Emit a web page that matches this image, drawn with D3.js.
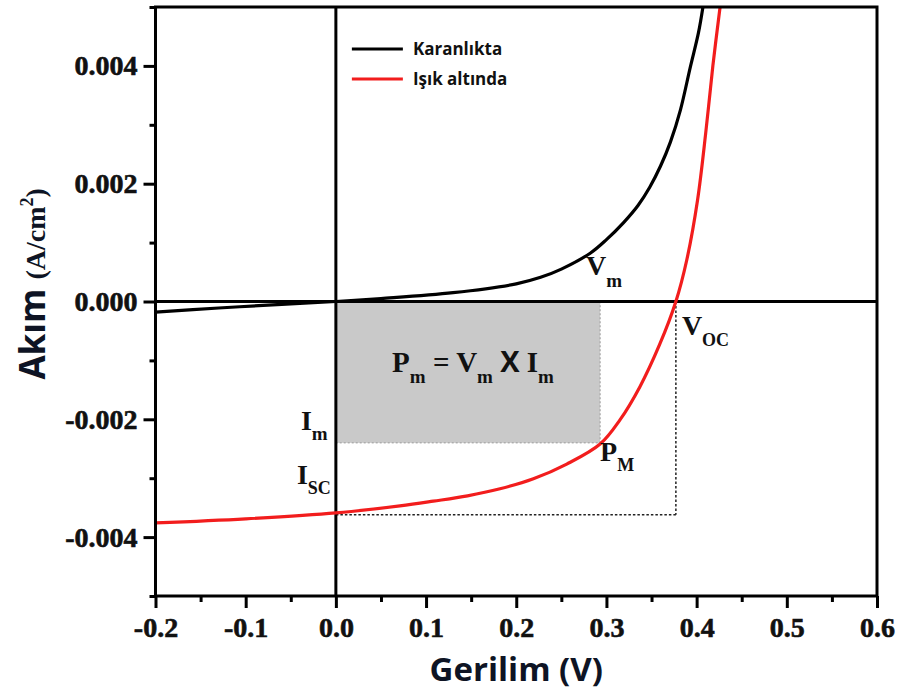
<!DOCTYPE html>
<html>
<head>
<meta charset="utf-8">
<script src="https://cdn.jsdelivr.net/npm/d3@7"></script>
<style>
  body { margin: 0; background: #fff; }
  svg { display: block; }
</style>
</head>
<body>
<svg id="iv-chart" width="901" height="690"></svg>
<script>
// karanlıkta (dark) curve
const darkV = [-0.2, -0.13, -0.06, 0, 0.05, 0.13, 0.2, 0.227, 0.25, 0.282, 0.3, 0.319, 0.335, 0.348, 0.36, 0.371, 0.382, 0.393, 0.402, 0.407];
const darkI = [-0.00018, -0.00011, -0.00005, 0, 0.00005, 0.00015, 0.0003, 0.00041, 0.00055, 0.00082, 0.00105, 0.00134, 0.00163, 0.00194, 0.0023, 0.00271, 0.00325, 0.00398, 0.00456, 0.005];

// ışık altında (light) curve
const lightV = [-0.2, -0.1, 0, 0.071, 0.108, 0.146, 0.182, 0.219, 0.256, 0.293, 0.315, 0.337, 0.359, 0.377, 0.389, 0.401, 0.41, 0.418, 0.426];
const lightI = [-0.00376, -0.00369, -0.00359, -0.00347, -0.00339, -0.0033, -0.00318, -0.00301, -0.00276, -0.00242, -0.00201, -0.00145, -0.00073, 0, 0.0007, 0.00172, 0.00285, 0.004, 0.005];

// karakteristik noktalar
const Vm = 0.293, Im = -0.0024, Voc = 0.377, Isc = -0.00362;

const xTicks = [-0.2, -0.1, 0.0, 0.1, 0.2, 0.3, 0.4, 0.5, 0.6];
const xTickLabels = ["-0.2", "-0.1", "0.0", "0.1", "0.2", "0.3", "0.4", "0.5", "0.6"];
const xMinor = [-0.15, -0.05, 0.05, 0.15, 0.25, 0.35, 0.45, 0.55];
const yTicks = [-0.004, -0.002, 0.0, 0.002, 0.004];
const yTickLabels = ["-0.004", "-0.002", "0.000", "0.002", "0.004"];
const yMinor = [-0.005, -0.003, -0.001, 0.001, 0.003, 0.005];

const legendNames = ["Karanlıkta", "Işık altında"];
const legendColors = ["#000000", "#f21d1d"];

const svg = d3.select("#iv-chart");
const margin = { top: 7, right: 24, bottom: 94, left: 155.5 };
const width = +svg.attr("width") - margin.left - margin.right;
const height = +svg.attr("height") - margin.top - margin.bottom;
const g = svg.append("g").attr("transform", `translate(${margin.left},${margin.top})`);

const x = d3.scaleLinear().domain([-0.2, 0.6]).range([0, width]);
const y = d3.scaleLinear().domain([-0.005, 0.005]).range([height, 0]);

const serif = "'Liberation Serif', 'Times New Roman', serif";
const sans = "'Open Sans', 'Noto Sans', sans-serif";

g.append("clipPath").attr("id", "plot-clip")
    .append("rect").attr("width", width).attr("height", height);

// Pm dikdörtgeni
g.append("rect")
    .attr("x", x(0))
    .attr("y", y(0))
    .attr("width", x(Vm) - x(0))
    .attr("height", y(Im) - y(0))
    .attr("fill", "#c9c9c9")
    .attr("stroke", "#9a9a9a")
    .attr("stroke-width", 1)
    .attr("stroke-dasharray", "2,2");

// Voc / Isc kesikli çizgiler
const dotted = g.append("g")
    .attr("fill", "none")
    .attr("stroke", "#222")
    .attr("stroke-width", 1.5)
    .attr("stroke-dasharray", "2.5,2");
dotted.append("line")
    .attr("x1", x(Voc)).attr("x2", x(Voc))
    .attr("y1", y(0)).attr("y2", y(Isc));
dotted.append("line")
    .attr("x1", x(0)).attr("x2", x(Voc))
    .attr("y1", y(Isc)).attr("y2", y(Isc));

// sıfır eksenleri
g.append("line")
    .attr("x1", 0).attr("x2", width)
    .attr("y1", y(0)).attr("y2", y(0))
    .attr("stroke", "#000").attr("stroke-width", 3);
g.append("line")
    .attr("x1", x(0)).attr("x2", x(0))
    .attr("y1", 0).attr("y2", height)
    .attr("stroke", "#000").attr("stroke-width", 3);

// eğriler
const line = d3.line()
    .x(d => x(d[0]))
    .y(d => y(d[1]))
    .curve(d3.curveCatmullRom.alpha(0.5));

const curves = [
    d3.zip(darkV, darkI),
    d3.zip(lightV, lightI)
];

g.selectAll(".iv-line")
    .data(curves)
    .enter()
    .append("path")
    .attr("class", "iv-line")
    .attr("clip-path", "url(#plot-clip)")
    .attr("d", d => line(d))
    .attr("fill", "none")
    .attr("stroke", (d, i) => legendColors[i])
    .attr("stroke-width", 3.2)
    .attr("stroke-linejoin", "round");

// eksenler
g.append("g")
    .attr("transform", `translate(0,${height})`)
    .call(d3.axisBottom(x).tickValues(xTicks).tickSize(12).tickPadding(9)
        .tickFormat((d, i) => xTickLabels[i]));
g.append("g")
    .attr("transform", `translate(0,${height})`)
    .call(d3.axisBottom(x).tickValues(xMinor).tickSize(6).tickFormat(""));

g.append("g")
    .call(d3.axisLeft(y).tickValues(yTicks).tickSize(12).tickPadding(6)
        .tickFormat((d, i) => yTickLabels[i]));
g.append("g")
    .call(d3.axisLeft(y).tickValues(yMinor).tickSize(6).tickFormat(""));

g.selectAll(".domain").remove();
g.selectAll(".tick line").attr("stroke", "#000").attr("stroke-width", 3);
g.selectAll(".tick text")
    .attr("fill", "#111")
    .attr("stroke", "#111")
    .attr("stroke-width", 0.6)
    .style("font-family", serif)
    .style("font-weight", "bold")
    .style("font-size", "28px");

// çerçeve
g.append("rect")
    .attr("width", width)
    .attr("height", height)
    .attr("fill", "none")
    .attr("stroke", "#000")
    .attr("stroke-width", 3);

// eksen başlıkları
svg.append("text")
    .attr("x", margin.left + x(0.2))
    .attr("y", 681)
    .attr("text-anchor", "middle")
    .attr("fill", "#0e1424")
    .style("font-family", sans)
    .style("font-weight", "bold")
    .style("font-size", "33px")
    .text("Gerilim (V)");

const yTitle = svg.append("text")
    .attr("transform", `translate(45,${margin.top + y(0.0003)}) rotate(-90)`)
    .attr("text-anchor", "middle")
    .attr("fill", "#0e1424")
    .style("font-weight", "bold");
yTitle.append("tspan").style("font-family", sans).style("font-size", "35px").text("Akım ");
yTitle.append("tspan").style("font-family", serif).style("font-size", "28px").text("(A/cm");
yTitle.append("tspan").style("font-family", serif).style("font-size", "18px").attr("dy", -12).text("2");
yTitle.append("tspan").style("font-family", serif).style("font-size", "28px").attr("dy", 12).text(")");

// gösterge
const legend = g.append("g")
    .attr("transform", `translate(${x(0) + 16}, 42)`);
legend.selectAll(".legend-item")
    .data(legendNames)
    .enter()
    .append("g")
    .attr("class", "legend-item")
    .attr("transform", (d, i) => `translate(0, ${i * 30})`)
    .each(function(d, i) {
        d3.select(this).append("line")
            .attr("x1", 0).attr("x2", 51)
            .attr("stroke", legendColors[i])
            .attr("stroke-width", 3);
        d3.select(this).append("text")
            .attr("x", 61)
            .attr("y", 6)
            .attr("fill", "#111")
            .style("font-family", sans)
            .style("font-weight", "bold")
            .style("font-size", "17px")
            .text(d);
    });

// etiketler: ana harf + alt indis
function label(px, py, main, sub, size, subSize, subDrop) {
    const t = g.append("text")
        .attr("x", px)
        .attr("y", py)
        .attr("fill", "#111")
        .style("font-family", serif)
        .style("font-weight", "bold")
        .style("font-size", `${size}px`);
    t.append("tspan").text(main);
    t.append("tspan").attr("dy", subDrop).style("font-size", `${subSize}px`).text(sub);
    return t;
}

label(x(Vm) - 14, y(0) - 27, "V", "m", 28, 19, 12);
label(x(Voc) + 6, y(0) + 33, "V", "OC", 28, 18, 11);
label(x(0) - 35, y(Im) - 13, "I", "m", 28, 19, 10);
label(x(0) - 39, y(Isc) - 31, "I", "SC", 28, 18, 10);
label(x(Vm), y(Im) + 18, "P", "M", 28, 18, 10);

// Pm = Vm X Im
const eq = g.append("text")
    .attr("x", (x(0) + x(Vm)) / 2 + 5)
    .attr("y", y(0) + 70)
    .attr("text-anchor", "middle")
    .attr("fill", "#111")
    .style("font-family", serif)
    .style("font-weight", "bold")
    .style("font-size", "29px");
eq.append("tspan").text("P");
eq.append("tspan").attr("dy", 11).style("font-size", "19px").text("m");
eq.append("tspan").attr("dy", -11).text(" = V");
eq.append("tspan").attr("dy", 11).style("font-size", "19px").text("m");
eq.append("tspan").attr("dy", -11).text(" ");
eq.append("tspan").style("font-family", sans).style("font-size", "29px").text("X");
eq.append("tspan").text(" I");
eq.append("tspan").attr("dy", 11).style("font-size", "19px").text("m");
</script>
</body>
</html>
